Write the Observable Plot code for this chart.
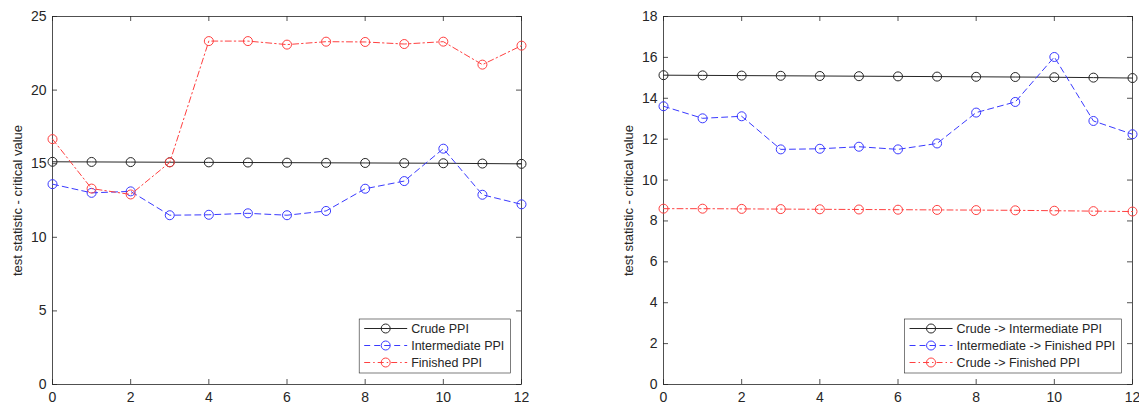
<!DOCTYPE html>
<html><head><meta charset="utf-8">
<script src="https://cdn.jsdelivr.net/npm/d3@7"></script>
<script src="https://cdn.jsdelivr.net/npm/@observablehq/plot@0.6"></script>
<style>
html,body{margin:0;padding:0;background:#fff;}
#wrap{position:relative;width:1139px;height:408px;overflow:hidden;background:#fff;}
#wrap svg{position:absolute;top:0;}
</style></head><body><div id="wrap"></div>
<script>
// ---- data ----
const steps = [0,1,2,3,4,5,6,7,8,9,10,11,12];
const xTicks = [0,2,4,6,8,10,12];
const leftYTicks = [0,5,10,15,20,25];
const rightYTicks = [0,2,4,6,8,10,12,14,16,18];
const yLabel = "test statistic - critical value";

const leftNames = ["Crude PPI","Intermediate PPI","Finished PPI"];
const crudePPI        = [15.13,15.12,15.11,15.10,15.09,15.08,15.07,15.06,15.05,15.04,15.03,15.01,14.99];
const intermediatePPI = [13.61,13.02,13.12,11.50,11.53,11.63,11.50,11.79,13.30,13.82,16.02,12.89,12.24];
const finishedPPI     = [16.67,13.31,12.91,15.09,23.33,23.33,23.09,23.29,23.27,23.13,23.29,21.73,23.02];

const rightNames = ["Crude -> Intermediate PPI","Intermediate -> Finished PPI","Crude -> Finished PPI"];
const crudeToIntermediate    = [15.13,15.12,15.11,15.10,15.09,15.08,15.07,15.06,15.05,15.04,15.03,15.01,14.99];
const intermediateToFinished = [13.61,13.02,13.12,11.50,11.53,11.63,11.50,11.79,13.30,13.82,16.02,12.89,12.24];
const crudeToFinished        = [8.60,8.60,8.59,8.58,8.57,8.56,8.55,8.54,8.53,8.52,8.50,8.48,8.46];

// ---- styles ----
const seriesColors = ["#262626","#3a3aff","#ff4040"];
const seriesDash = ["none","6,4","6,3,1.5,3"];
const axisColor = "#262626";
const fontFamily = "'Liberation Sans', Arial, Helvetica, sans-serif";

function panel({names, series, yMax, yTicks, left, width, marginLeft, marginRight}) {
  const H = 408, mt = 16, mb = 24;
  const innerH = H - mt - mb;
  const innerW = width - marginLeft - marginRight;
  const rows = series.flatMap((vals, i) => vals.map((v, j) => ({x: steps[j], y: v, s: i})));
  const marks = [
    Plot.frame({stroke: axisColor, strokeWidth: 0.8}),
    Plot.tickX(xTicks, {x: d => d, insetTop: innerH - 5, stroke: axisColor, strokeWidth: 0.8}),
    Plot.tickX(xTicks, {x: d => d, insetBottom: innerH - 5, stroke: axisColor, strokeWidth: 0.8}),
    Plot.tickY(yTicks, {y: d => d, insetRight: innerW - 5, stroke: axisColor, strokeWidth: 0.8}),
    Plot.tickY(yTicks, {y: d => d, insetLeft: innerW - 5, stroke: axisColor, strokeWidth: 0.8}),
    Plot.axisX({ticks: xTicks, tickSize: 0, tickPadding: 8, label: null, fill: axisColor, fontSize: 14}),
    Plot.axisY({ticks: yTicks, tickSize: 0, tickPadding: 6, label: null, fill: axisColor, fontSize: 14}),
    Plot.axisY({ticks: [], tickSize: 0, fill: axisColor, fontSize: 13,
      label: yLabel, labelAnchor: "center", labelArrow: "none", labelOffset: 40})
  ];
  names.forEach((n, i) => {
    const d = rows.filter(r => r.s === i);
    marks.push(Plot.line(d, {x: "x", y: "y", stroke: seriesColors[i], strokeWidth: 1,
      strokeDasharray: seriesDash[i] === "none" ? null : seriesDash[i]}));
    marks.push(Plot.dot(d, {x: "x", y: "y", r: 4.5, stroke: seriesColors[i], strokeWidth: 1, fill: "none"}));
  });
  const chart = Plot.plot({
    width, height: H, marginTop: mt, marginBottom: mb, marginLeft, marginRight,
    x: {domain: [0, 12]},
    y: {domain: [0, yMax]},
    style: {fontFamily, fontSize: "13px", color: axisColor, background: "transparent", overflow: "visible"},
    marks
  });
  chart.style.left = left + "px";
  document.getElementById("wrap").appendChild(chart);

  // legend
  const svg = d3.select(chart);
  const g = svg.append("g").attr("font-family", fontFamily).attr("font-size", "12.5px")
    .attr("text-anchor", "start");
  const box = g.append("rect").attr("fill", "#fff").attr("stroke", axisColor).attr("stroke-width", 0.6);
  const rowY = [9.5, 26.5, 43.5];
  const texts = [];
  names.forEach((n, i) => {
    g.append("line").attr("x1", 5).attr("x2", 48).attr("y1", rowY[i]).attr("y2", rowY[i])
      .attr("stroke", seriesColors[i]).attr("stroke-width", 1)
      .attr("stroke-dasharray", seriesDash[i] === "none" ? null : seriesDash[i]);
    g.append("circle").attr("cx", 26.5).attr("cy", rowY[i]).attr("r", 4.5)
      .attr("fill", "none").attr("stroke", seriesColors[i]).attr("stroke-width", 1);
    texts.push(g.append("text").attr("x", 52).attr("y", rowY[i]).attr("dy", "0.35em")
      .attr("text-anchor", "start").style("text-anchor", "start")
      .attr("fill", axisColor).text(n));
  });
  const tw = d3.max(texts, t => t.node().getComputedTextLength());
  const bw = 52 + tw + 6, bh = 54;
  box.attr("x", 0).attr("y", 0).attr("width", bw).attr("height", bh);
  const frameRight = width - marginRight, frameBottom = H - mb;
  g.attr("transform", `translate(${frameRight - 10.7 - bw},${frameBottom - 11 - bh})`);
}

panel({names: leftNames, series: [crudePPI, intermediatePPI, finishedPPI], yMax: 25, yTicks: leftYTicks,
  left: 0, width: 580, marginLeft: 52, marginRight: 59});
panel({names: rightNames, series: [crudeToIntermediate, intermediateToFinished, crudeToFinished], yMax: 18, yTicks: rightYTicks,
  left: 580, width: 559, marginLeft: 83, marginRight: 7});
</script></body></html>
